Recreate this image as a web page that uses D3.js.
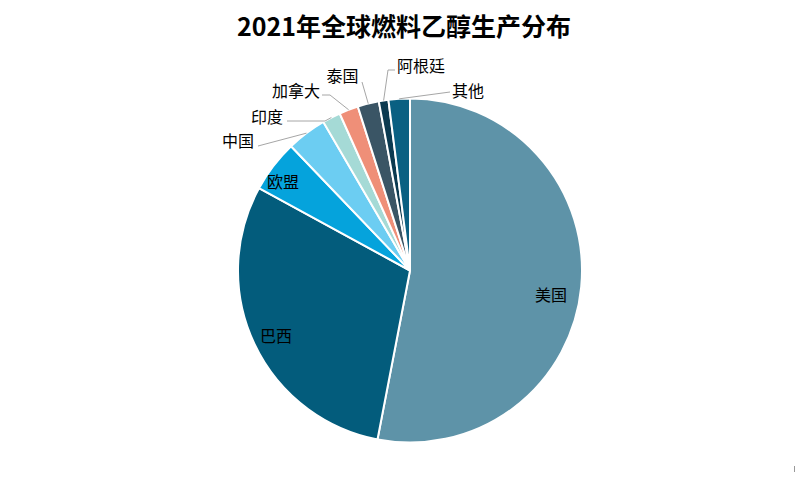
<!DOCTYPE html>
<html>
<head>
<meta charset="utf-8">
<script src="https://cdn.jsdelivr.net/npm/d3@7"></script>
<style>
  body { margin: 0; background: #fff; }
  text { font-family: "Noto Sans CJK SC", "Noto Sans", sans-serif; }
</style>
</head>
<body>
<svg id="chart" width="797" height="478"></svg>
<script>
// share of 2021 world fuel ethanol output (%)
var categories = ["美国", "巴西", "欧盟", "中国", "印度", "加拿大", "泰国", "阿根廷", "其他"];
var shares = [53.0, 29.9, 4.9, 3.75, 1.7, 1.8, 2.0, 0.9, 2.0];
var colors = ["#5e93a8", "#035c7c", "#05a3dc", "#6ccdf2", "#a5dad6", "#ef8f78", "#3a5565", "#0b3a50", "#0a6082"];

var width = 797, height = 478;
var cx = 410, cy = 270.5, radius = 172;

// where the labels sit: inside ones by offset from centre, outside ones with a leader
var insideLabels = {
    "美国": [141, 23],
    "巴西": [-134, 64],
    "欧盟": [-127, -90]
};
var outsideLabels = {
    "中国":   { text: [254, 140], anchor: "end",    path: [[258, 146]] },
    "印度":   { text: [283, 115.5], anchor: "end",  path: [[287, 121], [325, 121]] },
    "加拿大": { text: [320, 89.5], anchor: "end",   path: [[322, 95], [330, 95]] },
    "泰国":   { text: [342.5, 74.5], anchor: "middle", path: [[362, 82]] },
    "阿根廷": { text: [397, 64.5], anchor: "start", path: [[395, 70], [388, 70]] },
    "其他":   { text: [452, 89.5], anchor: "start", path: [[450, 92]] }
};

var svg = d3.select("#chart");

svg.append("text")
    .attr("x", 404)
    .attr("y", 25)
    .attr("text-anchor", "middle")
    .attr("dominant-baseline", "central")
    .style("font-size", "25px")
    .style("font-weight", "bold")
    .style("fill", "#000")
    .text("2021年全球燃料乙醇生产分布");

var data = categories.map(function(c, i) {
    return { name: c, value: shares[i], color: colors[i] };
});

var pie = d3.pie()
    .sort(null)
    .value(function(d) { return d.value; });

var arc = d3.arc()
    .innerRadius(0)
    .outerRadius(radius);

var arcs = pie(data);

var g = svg.append("g")
    .attr("transform", "translate(" + cx + "," + cy + ")");

g.selectAll("path.slice")
    .data(arcs)
    .enter()
    .append("path")
    .attr("class", "slice")
    .attr("d", arc)
    .style("fill", function(d) { return d.data.color; })
    .style("stroke", "#fff")
    .style("stroke-width", 2);

// labels inside the big slices
arcs.forEach(function(a) {
    var off = insideLabels[a.data.name];
    if (!off) return;
    g.append("text")
        .attr("x", off[0])
        .attr("y", off[1])
        .attr("text-anchor", "middle")
        .attr("dominant-baseline", "central")
        .style("font-size", "16px")
        .style("fill", "#000")
        .text(a.data.name);
});

// leader lines and outside labels
var line = d3.line();
arcs.forEach(function(a) {
    var lay = outsideLabels[a.data.name];
    if (!lay) return;
    var mid = (a.startAngle + a.endAngle) / 2;
    var tip = [cx + radius * Math.sin(mid), cy - radius * Math.cos(mid)];
    var pts = lay.path.concat([tip]);
    svg.append("path")
        .attr("d", line(pts))
        .style("fill", "none")
        .style("stroke", "#a6a6a6")
        .style("stroke-width", 1);
    svg.append("text")
        .attr("x", lay.text[0])
        .attr("y", lay.text[1])
        .attr("text-anchor", lay.anchor)
        .attr("dominant-baseline", "central")
        .style("font-size", "16px")
        .style("fill", "#000")
        .text(a.data.name);
});

// small stray tick in the bottom right corner of the original
svg.append("line")
    .attr("x1", 794.5).attr("x2", 794.5)
    .attr("y1", 466).attr("y2", 472)
    .style("stroke", "#999")
    .style("stroke-width", 1);
</script>
</body>
</html>
